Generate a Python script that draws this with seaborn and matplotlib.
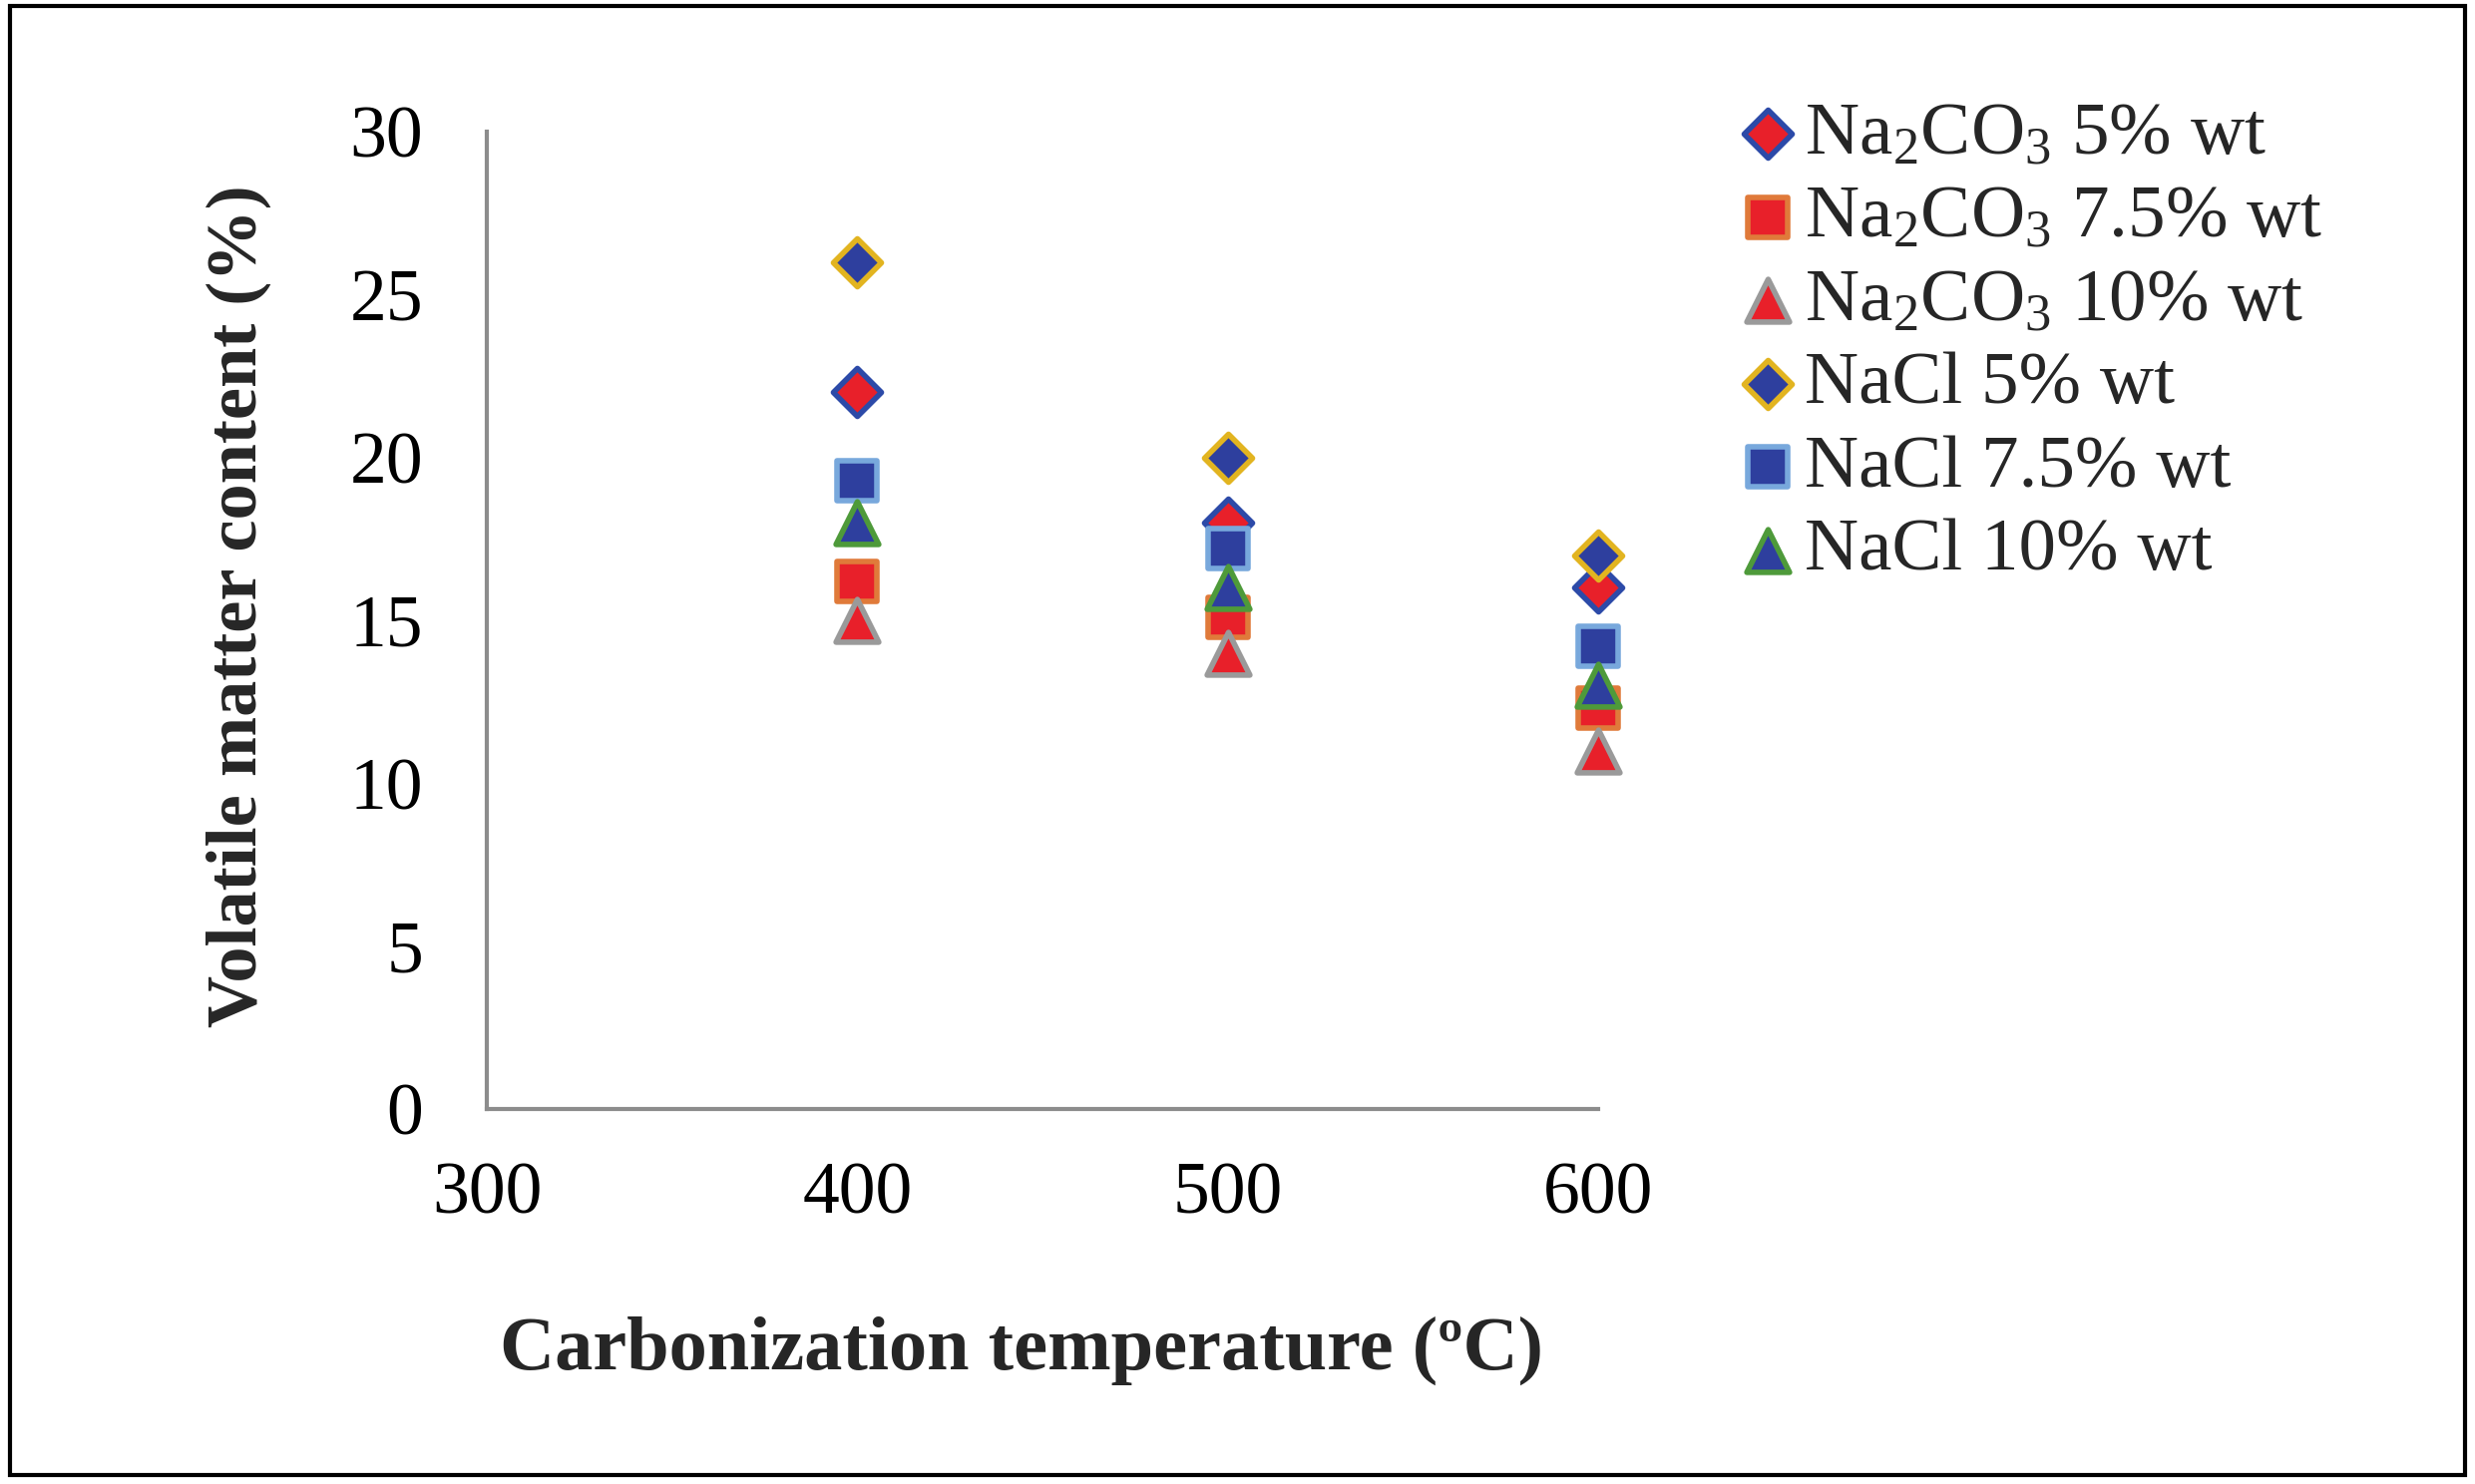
import pandas as pd
import seaborn as sns
import matplotlib.pyplot as plt
from matplotlib.patches import Rectangle

temps = [400, 500, 600]
na2co3_5 = [22, 18, 16]
na2co3_75 = [16.2, 15.1, 12.3]
na2co3_10 = [15, 14, 11]
nacl_5 = [26, 20, 17]
nacl_75 = [19.3, 17.2, 14.2]
nacl_10 = [18, 16, 13]

labels = ["Na$_2$CO$_3$ 5% wt", "Na$_2$CO$_3$ 7.5% wt", "Na$_2$CO$_3$ 10% wt",
          "NaCl 5% wt", "NaCl 7.5% wt", "NaCl 10% wt"]
values = [na2co3_5, na2co3_75, na2co3_10, nacl_5, nacl_75, nacl_10]

# marker, fill, edge, size
styles = [
    ("D", "#e8202a", "#2c4aa8", 600),
    ("s", "#e8202a", "#e07a3a", 850),
    ("^", "#e8202a", "#9a9a9a", 950),
    ("D", "#2e3f9e", "#e2b420", 600),
    ("s", "#2e3f9e", "#78a8dc", 850),
    ("^", "#2e3f9e", "#4e9a3a", 950),
]

sns.set_style("white")
plt.rcParams['font.family'] = ['Liberation Serif', 'DejaVu Serif']
plt.rcParams['mathtext.fontset'] = 'custom'
plt.rcParams['mathtext.rm'] = 'Liberation Serif'
plt.rcParams['mathtext.it'] = 'Liberation Serif:italic'
plt.rcParams['mathtext.bf'] = 'Liberation Serif:bold'

fig = plt.figure(figsize=(24.81, 14.88), dpi=100)
ax = fig.add_axes([0.1967, 0.2527, 0.449, 0.6586])

for lab, vals, (mk, fc, ec, s) in zip(labels, values, styles):
    df = pd.DataFrame({'temp': temps, 'vm': vals})
    sns.scatterplot(data=df, x='temp', y='vm', marker=mk, color=fc, edgecolor=ec,
                    s=s, linewidth=4, label=lab, ax=ax, zorder=3, clip_on=False)

ax.set_xlim(300, 600)
ax.set_ylim(0, 30)
ax.set_xticks([300, 400, 500, 600])
ax.set_yticks([0, 5, 10, 15, 20, 25, 30])
for side in ['top', 'right']:
    ax.spines[side].set_visible(False)
for side in ['left', 'bottom']:
    ax.spines[side].set_color('#8c8c8c')
    ax.spines[side].set_linewidth(3)
ax.tick_params(axis='both', direction='out', length=16, width=3, color='#8c8c8c',
               labelsize=53, labelcolor='black')
ax.tick_params(axis='y', pad=30)
ax.tick_params(axis='x', pad=22)

ax.set_xlabel("Carbonization temperature (ºC)", fontsize=55, fontweight='bold')
ax.set_ylabel("Volatile matter content (%)", fontsize=52, fontweight='bold')
ax.xaxis.set_label_coords(0.481, -0.212)
ax.yaxis.set_label_coords(-0.194, 0.515)

ax.legend(loc='upper left', bbox_to_anchor=(0.687, 0.952), bbox_transform=fig.transFigure,
          frameon=False, fontsize=54, handletextpad=0.0, labelspacing=0.2,
          borderaxespad=0, handlelength=1.0)

fig.add_artist(Rectangle((0.004, 0.006), 0.992, 0.99, transform=fig.transFigure,
                         fill=False, edgecolor='black', linewidth=3))

fig.savefig("out.png", dpi=100)
